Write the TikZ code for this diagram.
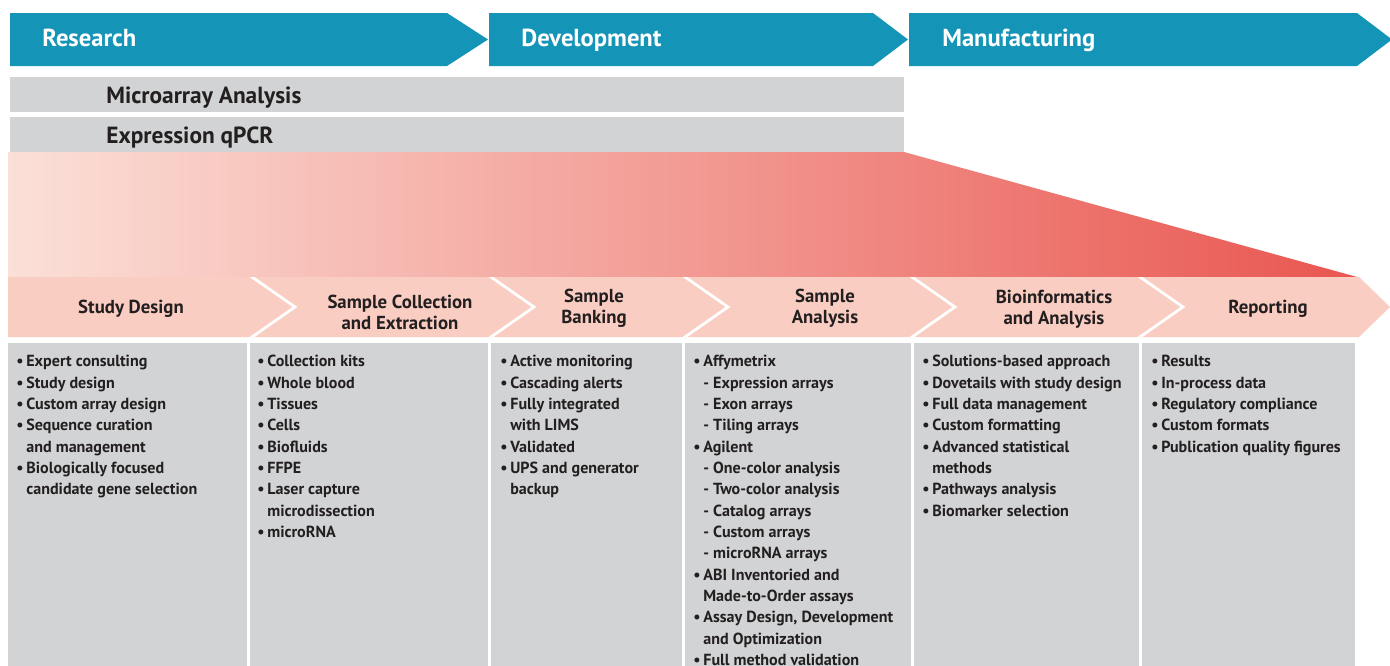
\documentclass[tikz,border=0pt]{standalone}
\usepackage{fontspec}
\setmainfont{PT Sans}
\usetikzlibrary{positioning}

\definecolor{stageblue}{RGB}{20,148,182}
\definecolor{barfill}{RGB}{209,211,212}
\definecolor{bandfill}{RGB}{249,205,193}
\definecolor{wedgelo}{RGB}{251,224,216}
\definecolor{wedgehi}{RGB}{233,86,80}
\definecolor{txtdark}{RGB}{35,31,32}

% bullet and indent for the service lists
\newcommand{\bl}{\makebox[0.2cm][l]{\textbullet}}
\newcommand{\ind}{\hspace*{0.2cm}}

\begin{document}
\begin{tikzpicture}[x=0.02cm,y=-0.02cm,
  stagetext/.style={anchor=base west,inner sep=0pt,text=white,
    font=\bfseries\fontsize{14}{16}\selectfont},
  bartext/.style={anchor=base west,inner sep=0pt,text=txtdark,
    font=\bfseries\fontsize{13.3}{15}\selectfont},
  phasetext/.style={inner sep=0pt,align=center,text=txtdark,
    font=\bfseries\fontsize{10.7}{11.95}\selectfont},
  listtext/.style={anchor=north west,inner sep=0pt,align=left,text=txtdark,
    font=\bfseries\fontsize{9.15}{12.15}\selectfont}]

  \clip (0,0) rectangle (1390,666);

  % Stage arrows
  \fill[stageblue] (10,13) -- (447,13) -- (488,39.5) -- (447,66) -- (10,66) -- cycle;
  \fill[stageblue] (489,13) -- (873,13) -- (908,39.5) -- (873,66) -- (489,66) -- cycle;
  \fill[stageblue] (909,13) -- (1357,13) -- (1392,39.5) -- (1357,66) -- (909,66) -- cycle;
  \node[stagetext] (research) at (42,47) {Research};
  \node[stagetext] (development) at (521,47) {Development};
  \node[stagetext] (manufacturing) at (942,47) {Manufacturing};

  % Platform bars
  \fill[barfill] (10,77) rectangle (904,111.5);
  \fill[barfill] (10,117) rectangle (904,152);
  \node[bartext] (microarray) at (106,103) {Microarray Analysis};
  \node[bartext] (qpcr) at (106,143) {Expression qPCR};

  % Gradient wedge
  \shade[left color=wedgelo,right color=wedgehi]
    (8,152) -- (904,152) -- (1359,277.5) -- (8,277.5) -- cycle;

  % Phase band with chevrons
  \begin{scope}
    \path[clip] (8,277) -- (1359,277) -- (1390,307) -- (1359,337) -- (8,337) -- cycle;
    \fill[bandfill] (0,270) rectangle (1390,340);
    \foreach \x in {252,491,685,912,1140}
      \draw[white,line width=1.6pt] (\x-4.3,274) -- (\x+43,307) -- (\x-4.3,340);
  \end{scope}
  \node[phasetext] (studydesign) at (131,309) {Study Design};
  \node[phasetext] (collection) at (400,312) {Sample Collection\\and Extraction};
  \node[phasetext] (banking) at (594,308) {Sample\\Banking};
  \node[phasetext] (analysis) at (825,308) {Sample\\Analysis};
  \node[phasetext] (bioinf) at (1054,309) {Bioinformatics\\and Analysis};
  \node[phasetext] (reporting) at (1268,309) {Reporting};

  % Service columns
  \foreach \xa/\xb in {8/246.5,250/488,491/682,685/911,914/1139,1142/1355}
    \fill[barfill] (\xa,343) rectangle (\xb,670);

  \node[listtext] (studylist) at (16,355) {\bl Expert consulting\\
    \bl Study design\\
    \bl Custom array design\\
    \bl Sequence curation\\
    \ind and management\\
    \bl Biologically focused\\
    \ind candidate gene selection};
  \node[listtext] (collectlist) at (257,355) {\bl Collection kits\\
    \bl Whole blood\\
    \bl Tissues\\
    \bl Cells\\
    \bl Biofluids\\
    \bl FFPE\\
    \bl Laser capture\\
    \ind microdissection\\
    \bl microRNA};
  \node[listtext] (bankinglist) at (500,355) {\bl Active monitoring\\
    \bl Cascading alerts\\
    \bl Fully integrated\\
    \ind with LIMS\\
    \bl Validated\\
    \bl UPS and generator\\
    \ind backup};
  \node[listtext] (analysislist) at (693,355) {\bl Affymetrix\\
    \ind - Expression arrays\\
    \ind - Exon arrays\\
    \ind - Tiling arrays\\
    \bl Agilent\\
    \ind - One-color analysis\\
    \ind - Two-color analysis\\
    \ind - Catalog arrays\\
    \ind - Custom arrays\\
    \ind - microRNA arrays\\
    \bl ABI Inventoried and\\
    \ind Made-to-Order assays\\
    \bl Assay Design, Development\\
    \ind and Optimization\\
    \bl Full method validation};
  \node[listtext] (bioinflist) at (922,355) {\bl Solutions-based approach\\
    \bl Dovetails with study design\\
    \bl Full data management\\
    \bl Custom formatting\\
    \bl Advanced statistical\\
    \ind methods\\
    \bl Pathways analysis\\
    \bl Biomarker selection};
  \node[listtext] (reportlist) at (1151,355) {\bl Results\\
    \bl In-process data\\
    \bl Regulatory compliance\\
    \bl Custom formats\\
    \bl Publication quality figures};

\end{tikzpicture}
\end{document}
